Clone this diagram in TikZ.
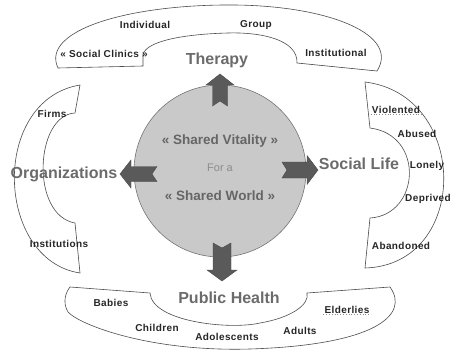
\documentclass[tikz,border=0pt]{standalone}
\usepackage{fontspec}
\setmainfont{Liberation Sans}
\newfontfamily\itemfont{Liberation Sans}[LetterSpace=4]
\usepackage{xcolor}
\usepackage{tikz}
\usetikzlibrary{shapes,arrows}

\definecolor{titlegray}{HTML}{6B6B6B}
\definecolor{coregray}{HTML}{666666}
\definecolor{discgray}{HTML}{C9C9C9}
\definecolor{arrowgray}{HTML}{5A5A5A}

\begin{document}
\begin{tikzpicture}[x=1pt, y=-1pt]
	\tikzstyle{item} = [font=\itemfont\bfseries\fontsize{10}{12}\selectfont, text=black!85, inner sep=1pt]
	\tikzstyle{title} = [font=\bfseries\fontsize{16}{19}\selectfont, text=titlegray, inner sep=1pt]
	\tikzstyle{core} = [font=\bfseries\fontsize{13.5}{16}\selectfont, text=coregray, inner sep=1pt]
	\tikzstyle{fora} = [font=\fontsize{11}{13}\selectfont, text=black!45, inner sep=1pt]
	\tikzstyle{bracket} = [draw=black!70, line width=0.6pt, fill=white]
	\tikzstyle{fat} = [fill=arrowgray, draw=arrowgray!80!black, line width=0.4pt]
	\tikzstyle{spell} = [draw=black!45, dotted, line width=0.8pt]
	\tikzset{pics/fatarrow/.style args={#1/#2/#3}{code={
		\path[fat] (0,#2) -- (#1-11,#2) -- (#1-11,#3) -- (#1,0) -- (#1-11,-#3)
			-- (#1-11,-#2) -- (0,-#2) -- (5,0) -- cycle;
	}}}
	\useasboundingbox (0,0) rectangle (451,351);
	% Brackets
	\draw[bracket] (58,68) .. controls (40,30) and (130,4) .. (235,5)
		.. controls (330,6) and (400,35) .. (377,71) -- (297,63)
		.. controls (298,40) and (262,32) .. (228,33)
		.. controls (188,34) and (148,40) .. (143,54) -- (143,66) -- cycle;
	\draw[bracket] (80,85) -- (75,113) .. controls (35,115) and (30,215) .. (75,223)
		-- (80,273) .. controls (-5,260) and (-10,100) .. (80,85) -- cycle;
	\draw[bracket] (365,82) .. controls (470,95) and (470,265) .. (365,268)
		-- (370,218) .. controls (420,215) and (425,135) .. (370,128) -- cycle;
	\draw[bracket] (70,287) -- (150,293) .. controls (152,322) and (230,330) .. (260,323)
		.. controls (290,318) and (310,305) .. (307,293) -- (390,287)
		.. controls (410,315) and (375,345) .. (250,349)
		.. controls (150,352) and (80,325) .. (68,312)
		.. controls (62,302) and (66,292) .. (70,287) -- cycle;
	% Place nodes
	\node [circle, draw=black!55, fill=discgray, line width=0.6pt, minimum size=172pt] (world) at (220,171) {};
	\node [core] (vitality) at (220,141) {« Shared Vitality »};
	\node [fora] (fora) at (220,168) {For a};
	\node [core] (shared) at (220,196) {« Shared World »};
	\node [title] (therapy) at (217,60) {Therapy};
	\node [title] (orga) at (64,174) {Organizations};
	\node [title] (social) at (359,164) {Social Life};
	\node [title] (health) at (229,298) {Public Health};
	\node [item] (individual) at (145,25) {Individual};
	\node [item] (group) at (256,25) {Group};
	\node [item] (clinics) at (104,54) {« Social Clinics »};
	\node [item] (institutional) at (336,53) {Institutional};
	\node [item] (firms) at (52,114) {Firms};
	\node [item] (institutions) at (59,244) {Institutions};
	\node [item] (violented) at (396,110) {Violented};
	\node [item] (abused) at (417,134) {Abused};
	\node [item] (lonely) at (427,166) {Lonely};
	\node [item] (deprived) at (428,199) {Deprived};
	\node [item] (abandoned) at (401,246) {Abandoned};
	\node [item] (babies) at (111,303) {Babies};
	\node [item] (children) at (157,328) {Children};
	\node [item] (adolescents) at (227,337) {Adolescents};
	\node [item] (adults) at (300,331) {Adults};
	\node [item] (elderlies) at (347,310) {Elderlies};
	% Draw arrows
	\pic [rotate=90] at (220,106) {fatarrow=32/7.5/14};
	\pic [rotate=-90] at (222,243) {fatarrow=38/9/15};
	\pic [rotate=180] at (157,174) {fatarrow=37/7.5/14};
	\pic at (282,170) {fatarrow=36/8/14.5};
	\draw[spell] (violented.south west) -- (violented.south east);
	\draw[spell] (elderlies.south west) -- (elderlies.south east);
\end{tikzpicture}
\end{document}
